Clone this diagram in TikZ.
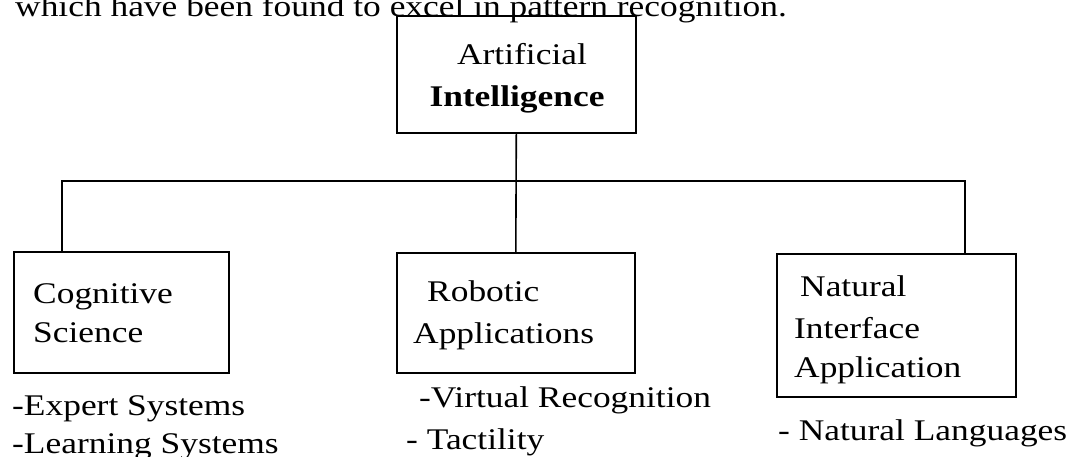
\documentclass[tikz,border=0pt]{standalone}
\usepackage{fontspec}
\setmainfont{Liberation Serif}[FakeStretch=1.18]
\begin{document}
\begin{tikzpicture}[x=1pt,y=-1pt,
  txt/.style={anchor=base west,inner sep=0pt,font=\fontsize{30}{36}\selectfont},
  frame/.style={draw,line width=1.6pt,anchor=north west,inner sep=0pt},
  link/.style={line width=1.6pt}]
\useasboundingbox (0,0) rectangle (1079,457);
% top text
\node[txt] (intro) at (15,17) {which have been found to excel in pattern recognition.};
% boxes
\node[frame,minimum width=239pt,minimum height=117pt] (ai) at (396,15) {};
\node[frame,minimum width=215pt,minimum height=121pt] (cog) at (13,251) {};
\node[frame,minimum width=238pt,minimum height=120pt] (rob) at (396,252) {};
\node[frame,minimum width=239pt,minimum height=143pt] (nat) at (776,253) {};
% box texts
\node[txt,anchor=base] (ai1) at (522,65) {Artificial};
\node[txt,anchor=base] (ai2) at (517,107) {\bfseries Intelligence};
\node[txt] (cog1) at (33,303) {Cognitive};
\node[txt] (cog2) at (33,342) {Science};
\node[txt] (rob1) at (427,301) {Robotic};
\node[txt] (rob2) at (413,343) {Applications};
\node[txt] (nat1) at (800,296) {Natural};
\node[txt] (nat2) at (794,338) {Interface};
\node[txt] (nat3) at (794,377) {Application};
% lists
\node[txt] (l1) at (12,415) {-Expert Systems};
\node[txt] (l2) at (12,453) {-Learning Systems};
\node[txt] (l3) at (419,407) {-Virtual Recognition};
\node[txt] (l4) at (406,449) {- Tactility};
\node[txt] (l5) at (778,440) {- Natural Languages};
% connectors
\coordinate (bl) at (62,181);
\coordinate (br) at (965,181);
\draw[link] (ai.south) -- (rob.north);
\draw[link] (cog.north -| bl) -- (bl) -- (br) -- (nat.north -| br);
\end{tikzpicture}
\end{document}
